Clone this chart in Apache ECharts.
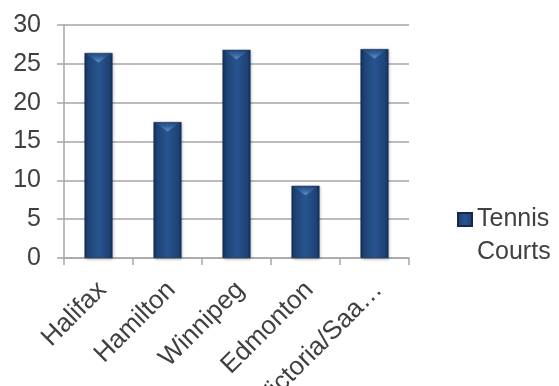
<!DOCTYPE html>
<html>
<head>
<meta charset="utf-8">
<script src="https://cdn.jsdelivr.net/npm/echarts@6/dist/echarts.min.js"></script>
<style>
  html, body { margin: 0; padding: 0; background: #fff; }
  #chart { width: 559px; height: 386px; }
</style>
</head>
<body>
<div id="chart"></div>
<script>
const cities = ['Halifax', 'Hamilton', 'Winnipeg', 'Edmonton', 'Victoria/Saa…'];
const tennisCourts = [26.4, 17.5, 26.8, 9.3, 26.9];
const seriesName = 'Tennis Courts';

const chart = echarts.init(document.getElementById('chart'));

// bar fill: dark edges, lighter middle (Excel bevel look)
const barFill = new echarts.graphic.LinearGradient(0, 0, 1, 0, [
    { offset: 0, color: '#142f59' },
    { offset: 0.12, color: '#1e4376' },
    { offset: 0.5, color: '#27548f' },
    { offset: 0.88, color: '#1e4376' },
    { offset: 1, color: '#142f59' }
]);

// light wedge on top of each bar
const bevelFill = new echarts.graphic.LinearGradient(0, 0, 0, 1, [
    { offset: 0, color: '#6a96d0' },
    { offset: 1, color: 'rgba(39,84,143,0.3)' }
]);

const textColor = '#404040';
const lineColor = '#a6a6a6';

chart.setOption({
    animation: false,
    grid: { left: 64, right: 150, top: 25, bottom: 128, outerBoundsMode: 'none' },
    legend: {
        left: 457,
        top: 170,
        padding: 0,
        itemWidth: 14,
        itemHeight: 13,
        icon: 'rect',
        // empty first line keeps the marker level with "Tennis"
        formatter: () => '\nTennis\nCourts',
        textStyle: {
            fontFamily: 'Liberation Sans',
            fontSize: 25,
            color: textColor,
            lineHeight: 33
        },
        data: [seriesName]
    },
    xAxis: {
        type: 'category',
        data: cities,
        axisLine: { lineStyle: { color: lineColor, width: 1.5 } },
        axisTick: { show: true, length: 7, lineStyle: { color: lineColor, width: 1.5 } },
        axisLabel: {
            rotate: 45,
            margin: 24,
            interval: 0,
            verticalAlign: 'top',
            lineHeight: 11,
            fontFamily: 'Liberation Sans',
            fontSize: 26,
            color: textColor
        }
    },
    yAxis: {
        type: 'value',
        min: 0,
        max: 30,
        interval: 5,
        axisLine: { show: true, lineStyle: { color: lineColor, width: 1.5 } },
        axisTick: { show: true, length: 7, lineStyle: { color: lineColor, width: 1.5 } },
        splitLine: { lineStyle: { color: lineColor, width: 1.5 } },
        axisLabel: {
            margin: 23,
            fontFamily: 'Liberation Sans',
            fontSize: 25,
            color: textColor
        }
    },
    series: [{
        name: seriesName,
        type: 'bar',
        data: tennisCourts,
        barWidth: 28,
        itemStyle: {
            color: barFill,
            borderColor: '#12294d',
            borderWidth: 0.5,
            shadowColor: 'rgba(0,0,0,0.3)',
            shadowBlur: 3,
            shadowOffsetX: 1,
            shadowOffsetY: 1
        },
        markPoint: {
            symbol: 'triangle',
            symbolRotate: 180,
            symbolSize: [25, 9],
            symbolOffset: [0, 5],
            silent: true,
            label: { show: false },
            itemStyle: { color: bevelFill },
            data: cities.map((c, i) => ({ coord: [c, tennisCourts[i]] }))
        }
    }]
});
</script>
</body>
</html>
